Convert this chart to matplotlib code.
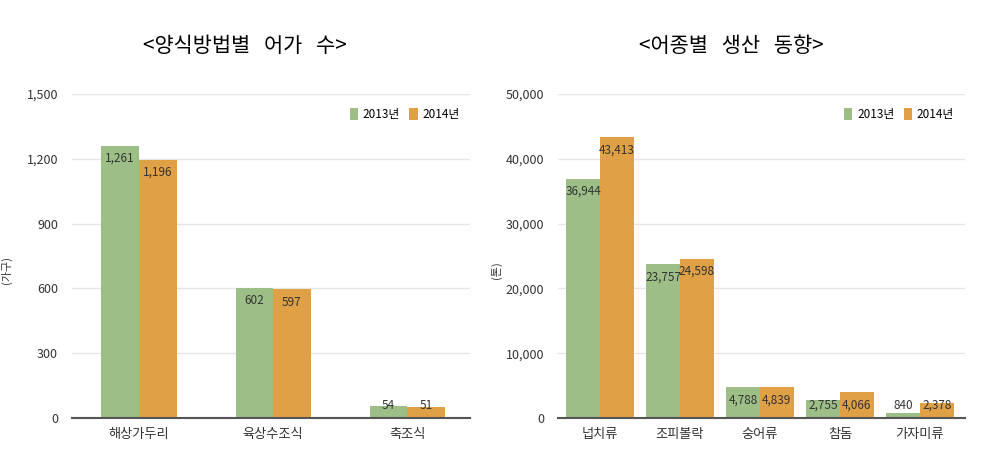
import numpy as np
import matplotlib
matplotlib.use("Agg")
import matplotlib.pyplot as plt

plt.rcParams['font.family'] = ['Noto Sans CJK KR', 'DejaVu Sans']

# 양식방법별 어가 수
methods = ['해상가두리', '육상수조식', '축조식']
households_2013 = [1261, 602, 54]
households_2014 = [1196, 597, 51]

# 어종별 생산 동향
species = ['넙치류', '조피볼락', '숭어류', '참돔', '가자미류']
prod_2013 = [36944, 23757, 4788, 2755, 840]
prod_2014 = [43413, 24598, 4839, 4066, 2378]

years = ['2013년', '2014년']
green = '#9dbf87'
orange = '#e0a045'


def draw(ax, cats, v13, v14, ymax, step, width, xlim, ylabel, ylabel_x):
    x = np.arange(len(cats))
    b1 = ax.bar(x - width / 2, v13, width, color=green, label=years[0], zorder=2)
    b2 = ax.bar(x + width / 2, v14, width, color=orange, label=years[1], zorder=2)
    ax.set_ylim(0, ymax)
    ax.set_xlim(*xlim)
    ticks = np.arange(0, ymax + 1, step)
    ax.set_yticks(ticks)
    ax.set_yticklabels([f'{int(t):,}' for t in ticks], fontsize=9, color='#333333')
    ax.set_xticks(x)
    ax.set_xticklabels(cats, fontsize=9.5, color='#333333')
    ax.tick_params(length=0, pad=10)
    ax.tick_params(axis='x', pad=7)
    ax.grid(axis='y', color='#e6e6e6', linewidth=1, zorder=0)
    for s in ['left', 'right', 'top']:
        ax.spines[s].set_visible(False)
    ax.spines['bottom'].set_color('#555555')
    ax.spines['bottom'].set_linewidth(1.5)
    ax.spines['bottom'].set_zorder(3)
    # value labels just under the bar top, never lower than a floor
    off = 13 / 324 * ymax
    for bars, vals in [(b1, v13), (b2, v14)]:
        for rect, v in zip(bars, vals):
            y = max(v - off, off)
            ax.text(rect.get_x() + rect.get_width() / 2, y, f'{v:,}',
                    ha='center', va='center', fontsize=8.5, color='#333333', zorder=4)
    ax.set_ylabel(ylabel, fontsize=8, color='#333333')
    ax.yaxis.set_label_coords(ylabel_x, 0.457)
    ax.legend(loc='upper right', bbox_to_anchor=(1.0, 0.99), ncol=2, frameon=False,
              fontsize=8.5, handlelength=0.7, handleheight=1.2, columnspacing=0.8,
              handletextpad=0.4)


fig = plt.figure(figsize=(10.08, 4.59), dpi=100)
ax1 = fig.add_axes([0.0714, 0.0893, 0.395, 0.706])
ax2 = fig.add_axes([0.5536, 0.0893, 0.4035, 0.706])

draw(ax1, methods, households_2013, households_2014, 1500, 300, 0.28,
     (-0.5, 2.47), '(가구)', -0.15)
draw(ax2, species, prod_2013, prod_2014, 50000, 10000, 0.42,
     (-0.525, 4.56), '(톤)', -0.138)

fig.text(245 / 1008, 1 - 46 / 459, '<양식방법별   어가   수>', ha='center', va='center',
         fontsize=15, color='black')
fig.text(731 / 1008, 1 - 46 / 459, '<어종별   생산   동향>', ha='center', va='center',
         fontsize=15, color='black')

fig.savefig('out.png', dpi=100, facecolor='white')
